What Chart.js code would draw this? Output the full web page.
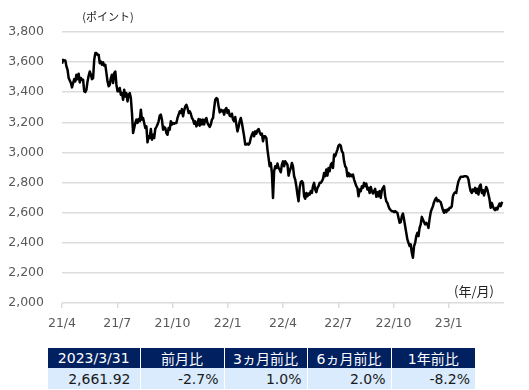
<!DOCTYPE html>
<html lang="ja">
<head>
<meta charset="utf-8">
<title>指数推移</title>
<script src="https://cdn.jsdelivr.net/npm/chart.js@4/dist/chart.umd.min.js"></script>
<style>
    body { margin: 0; background: #fff; }
    #wrap { position: relative; width: 529px; height: 390px; }
    #chartBox { position: absolute; left: 0; top: 0; width: 529px; height: 340px; }
    #summary {
        position: absolute; left: 48px; top: 348px; width: 427px;
        border-collapse: collapse; table-layout: fixed;
        font-family: "DejaVu Sans", "Noto Sans CJK JP", sans-serif; font-size: 14px;
    }
    #summary th {
        background: #002060; color: #fff; font-weight: normal;
        height: 20px; padding: 0; text-align: center;
        border-right: 1px solid #fff;
    }
    #summary td {
        background: #d9ebfc; color: #1a1a1a;
        height: 21px; padding: 0 5px 0 0; text-align: right;
        border-right: 1px solid #fff;
    }
    #summary th:last-child, #summary td:last-child { border-right: none; }
    #summary td:first-child { padding-right: 9px; }
</style>
</head>
<body>
<div id="wrap">
    <div id="chartBox"><canvas id="indexChart" width="529" height="340"></canvas></div>
    <table id="summary">
        <colgroup><col style="width:92px"><col style="width:84px"><col style="width:83px"><col style="width:84px"><col style="width:84px"></colgroup>
        <thead><tr id="summaryHead"></tr></thead>
        <tbody><tr id="summaryBody"></tr></tbody>
    </table>
</div>
<script>
// x axis labels, one per quarter (21/4 .. 23/1)
const quarterLabels = ['21/4', '21/7', '21/10', '22/1', '22/4', '22/7', '22/10', '23/1'];

// daily index level, 2021/4 .. 2023/3
const indexValues = [
    3589, 3615, 3611, 3611, 3571, 3549, 3494, 3478, 3461, 3432,
    3461, 3487, 3472, 3516, 3487, 3523, 3465, 3494, 3483, 3483,
    3406, 3401, 3417, 3472, 3509, 3538, 3516, 3487, 3494, 3615,
    3660, 3660, 3649, 3649, 3593, 3604, 3582, 3598, 3576, 3582,
    3527, 3472, 3439, 3450, 3494, 3516, 3461, 3527, 3538, 3450,
    3406, 3406, 3428, 3383, 3394, 3350, 3417, 3372, 3394, 3339,
    3383, 3394, 3361,
    3262, 3129, 3162, 3196, 3218, 3196, 3222, 3207, 3284, 3218,
    3229, 3196, 3162, 3173, 3067, 3107, 3096, 3156, 3085, 3118,
    3096, 3156, 3169, 3185, 3207, 3244, 3251, 3218, 3151, 3169,
    3162, 3129, 3118, 3162, 3151, 3207, 3185, 3196, 3191, 3196,
    3196, 3229, 3251, 3273, 3262, 3288, 3240, 3280, 3306, 3317,
    3295, 3262, 3273, 3257, 3229, 3218, 3191, 3207, 3173, 3185,
    3222, 3178, 3218, 3185, 3218, 3185, 3218, 3229, 3196, 3182,
    3169, 3185, 3218, 3229,
    3295, 3350, 3361, 3355, 3306, 3266, 3284, 3273, 3280, 3251,
    3284, 3295, 3262, 3280, 3244, 3240, 3257, 3218, 3207, 3235,
    3185, 3140, 3169, 3207, 3229, 3196, 3151, 3107, 3052, 3052,
    3059, 3052, 3063, 3096, 3118, 3134, 3107, 3140, 3125, 3147,
    3156, 3134, 3118, 3125, 3074, 3107, 3107, 3096, 3019, 2964,
    2908, 2930, 2864, 2698, 2875, 2908, 2897, 2926, 2897, 2886,
    2868, 2919, 2941, 2908, 2941, 2930, 2919, 2846, 2875, 2897,
    2930, 2908, 2842, 2820,
    2776, 2720, 2676, 2765, 2802, 2809, 2798, 2709, 2692, 2731,
    2709, 2727, 2720, 2743, 2731, 2776, 2798, 2754, 2736, 2765,
    2776, 2798, 2798, 2809, 2824, 2864, 2842, 2886, 2846, 2897,
    2875, 2919, 2930, 2897, 2986, 2975, 2997, 3019, 3045, 3052,
    3045, 3008, 2997, 2941, 2908, 2897, 2842, 2864, 2842, 2853,
    2842, 2853, 2820, 2798, 2776, 2765, 2709, 2754, 2743, 2776,
    2765, 2798, 2776, 2793, 2754, 2765, 2731, 2771, 2743, 2727,
    2743, 2758, 2705, 2736, 2709, 2743, 2698, 2749, 2765, 2776,
    2709, 2676, 2665, 2643,
    2625, 2617, 2610, 2610, 2603, 2610, 2603, 2599, 2566, 2533,
    2537, 2577, 2594, 2555, 2510, 2466, 2422, 2400, 2378, 2389,
    2334, 2301, 2378, 2400, 2444, 2466, 2444, 2499, 2522, 2572,
    2555, 2537, 2522, 2533, 2522, 2499, 2559, 2603, 2625, 2643,
    2670, 2687, 2698, 2676, 2683, 2676, 2670, 2643, 2617, 2599,
    2617, 2603, 2621, 2617, 2632, 2632, 2643, 2709, 2727, 2736,
    2731, 2776, 2809, 2824, 2838, 2838, 2838, 2842, 2842, 2842,
    2838, 2820, 2776, 2743, 2731, 2754, 2743, 2765, 2731, 2758,
    2720, 2776, 2787, 2731, 2749, 2714, 2743, 2771, 2754, 2720,
    2687, 2632, 2665, 2643, 2625, 2617, 2632, 2621, 2643, 2661,
    2643, 2665, 2662
];

// summary table under the chart
const tableHeaders = ['2023/3/31', '前月比', '3ヵ月前比', '6ヵ月前比', '1年前比'];
const tableValues = ['2,661.92', '-2.7%', '1.0%', '2.0%', '-8.2%'];

document.addEventListener('DOMContentLoaded', function() {
    // fill the table
    const headRow = document.getElementById('summaryHead');
    const bodyRow = document.getElementById('summaryBody');
    tableHeaders.forEach(text => {
        const th = document.createElement('th');
        th.textContent = text;
        headRow.appendChild(th);
    });
    tableValues.forEach(text => {
        const td = document.createElement('td');
        td.textContent = text;
        bodyRow.appendChild(td);
    });

    // samples are evenly spaced over 24 months
    const months = 24;
    const points = indexValues.map((v, i) => ({ x: i * months / indexValues.length, y: v }));

    // unit captions: (ポイント) above the y axis, (年/月) above the x axis end
    const unitLabels = {
        id: 'unitLabels',
        afterDraw(chart) {
            const c = chart.ctx;
            const area = chart.chartArea;
            c.save();
            c.fillStyle = '#222';
            c.textAlign = 'center';
            c.textBaseline = 'middle';
            c.font = '11px "Noto Sans CJK JP"';
            c.fillText('(ポイント)', area.left + 46, area.top - 15);
            c.font = '13px "Noto Sans CJK JP"';
            c.fillText('(年/月)', area.right - 30, area.bottom - 12);
            c.restore();
        }
    };

    const ctx = document.getElementById('indexChart').getContext('2d');
    const gridColor = '#dcdcdc';

    let chart = new Chart(ctx, {
        type: 'line',
        data: {
            datasets: [{
                data: points,
                borderColor: '#000',
                borderWidth: 2.5,
                borderJoinStyle: 'round',
                pointRadius: 0,
                tension: 0,
                fill: false
            }]
        },
        options: {
            responsive: false,
            animation: false,
            devicePixelRatio: 1,
            parsing: false,
            layout: { padding: { top: 32, right: 25, left: 0, bottom: 0 } },
            plugins: {
                legend: { display: false },
                tooltip: { enabled: false }
            },
            scales: {
                x: {
                    type: 'linear',
                    min: 0,
                    max: months,
                    afterFit: scale => { scale.height = 37; },
                    border: { display: false },
                    grid: {
                        drawOnChartArea: false,
                        tickLength: 5,
                        lineWidth: 1.5,
                        color: c => (c.tick && c.tick.value === months) ? 'transparent' : gridColor
                    },
                    ticks: {
                        stepSize: 3,
                        autoSkip: false,
                        maxRotation: 0,
                        padding: 8,
                        color: '#595959',
                        font: { family: 'DejaVu Sans', size: 12.5 },
                        callback: value => quarterLabels[value / 3] || ''
                    }
                },
                y: {
                    min: 2000,
                    max: 3800,
                    afterFit: scale => { scale.width = 62; },
                    border: { display: false },
                    grid: { drawTicks: false, lineWidth: 1.5, color: gridColor },
                    ticks: {
                        stepSize: 200,
                        padding: 18,
                        color: '#595959',
                        font: { family: 'DejaVu Sans', size: 12.5 },
                        callback: value => value.toLocaleString('en-US')
                    }
                }
            }
        },
        plugins: [unitLabels]
    });

    console.log('chart created:', chart.chartArea);
});
</script>
</body>
</html>
